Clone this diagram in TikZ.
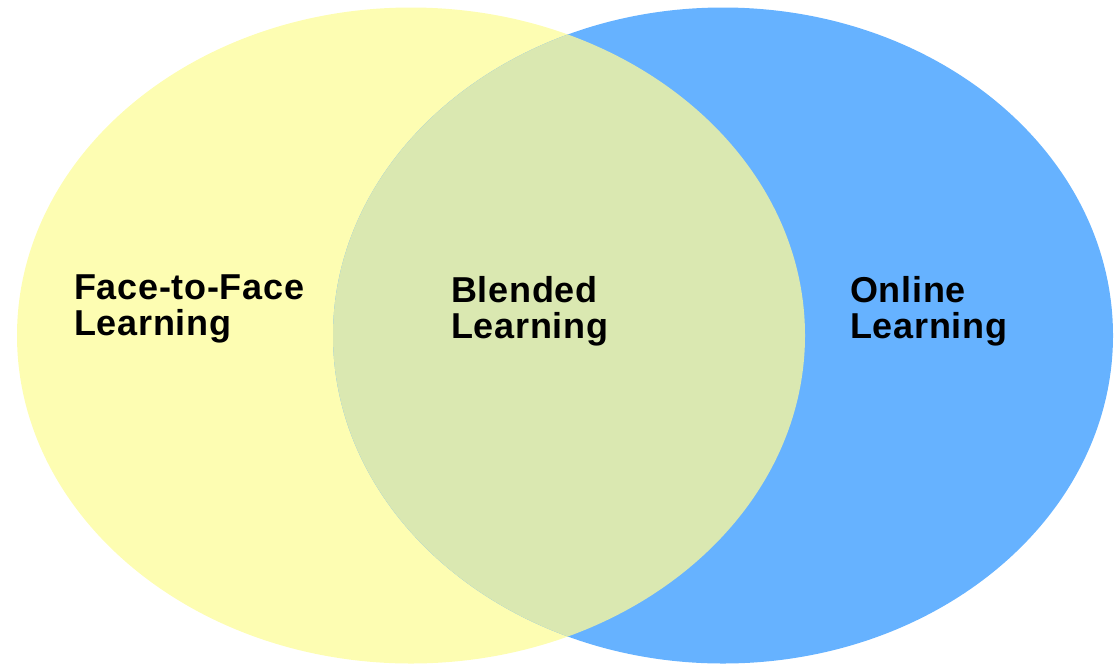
\documentclass[tikz,border=0pt]{standalone}
\usepackage{fontspec}
\setmainfont{Liberation Sans}
\newfontfamily\vennfont[LetterSpace=2.0]{Liberation Sans}
\usepackage{tikz}

\definecolor{faceyellow}{RGB}{253,253,178}
\definecolor{onlineblue}{RGB}{102,178,255}
\definecolor{blendgreen}{RGB}{218,232,177}

\tikzset{
	vennlabel/.style={anchor=base west, inner sep=0pt, align=left,
		font=\vennfont\bfseries\fontsize{36}{36}\selectfont, text=black}
}

\begin{document}
\begin{tikzpicture}[x=1pt,y=-1pt]
	\useasboundingbox (0,0) rectangle (1115,665);
	\fill[faceyellow] (411,335.5) ellipse [x radius=394, y radius=328];
	\fill[onlineblue] (723,335.5) ellipse [x radius=390, y radius=328];
	\begin{scope}
		\clip (723,335.5) ellipse [x radius=390, y radius=328];
		\fill[blendgreen] (411,335.5) ellipse [x radius=394, y radius=328];
	\end{scope}
	\node[vennlabel] (face) at (74,335) {Face-to-Face\\Learning};
	\node[vennlabel] (blended) at (451,338) {Blended\\Learning};
	\node[vennlabel] (online) at (850,338) {Online\\Learning};
\end{tikzpicture}
\end{document}
